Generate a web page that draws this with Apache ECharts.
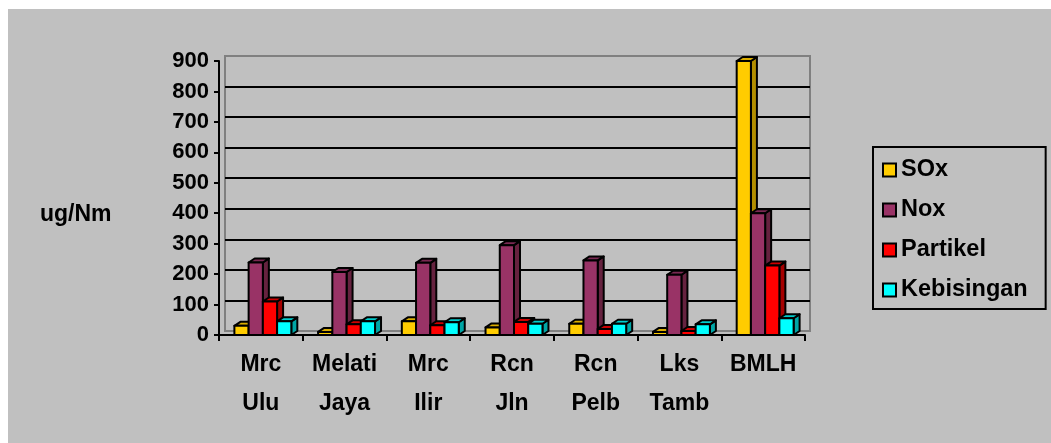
<!DOCTYPE html>
<html>
<head>
<meta charset="utf-8">
<script src="https://cdn.jsdelivr.net/npm/echarts@6/dist/echarts.min.js"></script>
<style>
html,body{margin:0;padding:0;background:#fff;}
#c{position:absolute;left:8px;top:9px;width:1043px;height:434px;background:#c0c0c0;}
</style>
</head>
<body>
<div id="c"></div>
<script>
var categories = ['Mrc\nUlu', 'Melati\nJaya', 'Mrc\nIlir', 'Rcn\nJln', 'Rcn\nPelb', 'Lks\nTamb', 'BMLH'];
var seriesNames = ['SOx', 'Nox', 'Partikel', 'Kebisingan'];
var sox = [30, 10, 45, 25, 37, 10, 900];
var nox = [238, 207, 237, 295, 245, 198, 400];
var partikel = [110, 35, 32, 43, 20, 13, 228];
var kebisingan = [45, 45, 42, 37, 37, 35, 55];
var yTicks = [0, 100, 200, 300, 400, 500, 600, 700, 800, 900];

var colors = [
  {front: '#FFCC00', top: '#D9AC00', side: '#B38E00'},
  {front: '#993366', top: '#7A2952', side: '#66223F'},
  {front: '#FF0000', top: '#CC0000', side: '#A60000'},
  {front: '#00FFFF', top: '#00CCCC', side: '#00A6A6'}
];
var allValues = [sox, nox, partikel, kebisingan];

var chart = echarts.init(document.getElementById('c'), null, {renderer: 'canvas'});
var OX = 8, OY = 9;
var FONT = '"Liberation Sans", Arial, sans-serif';

function makeSeries(si) {
  return {
    name: seriesNames[si],
    type: 'custom',
    xAxisIndex: 0,
    yAxisIndex: 0,
    clip: false,
    itemStyle: {color: colors[si].front, borderColor: '#000', borderWidth: 2},
    encode: {x: 0, y: 1},
    data: allValues[si].map(function (v, i) { return [i, v]; }),
    renderItem: function (params, api) {
      var idx = api.value(0);
      var val = api.value(1);
      var band = api.size([1, 0])[0];
      var w = band * 0.17;
      var base = api.coord([idx, 0]);
      var topPt = api.coord([idx, val]);
      var x0 = base[0] + (si - 2) * w + 2;
      var x1 = x0 + w;
      var yb = base[1];
      var yt = topPt[1];
      var dx = 6, dy = -4;
      var c = colors[si];
      var ls = {stroke: '#000', lineWidth: 2, lineJoin: 'round'};
      return {
        type: 'group',
        children: [
          {type: 'polygon', shape: {points: [[x1, yb], [x1 + dx, yb + dy], [x1 + dx, yt + dy], [x1, yt]]},
           style: Object.assign({fill: c.side}, ls)},
          {type: 'polygon', shape: {points: [[x0, yt], [x0 + dx, yt + dy], [x1 + dx, yt + dy], [x1, yt]]},
           style: Object.assign({fill: c.top}, ls)},
          {type: 'rect', shape: {x: x0, y: yt, width: w, height: yb - yt},
           style: Object.assign({fill: c.front}, ls)}
        ]
      };
    }
  };
}

var gridColors = yTicks.map(function (t, i) { return (i === 0 || i === yTicks.length - 1) ? '#808080' : '#000000'; });

var option = {
  animation: false,
  backgroundColor: '#c0c0c0',
  textStyle: {fontFamily: FONT},
  grid: [
    {left: 219 - OX, top: 61 - OY, width: 586, height: 274, containLabel: false},
    {left: 225 - OX, top: 56 - OY, width: 585, height: 275, show: true, borderColor: '#808080', borderWidth: 2, backgroundColor: 'transparent', z: 0}
  ],
  xAxis: [
    {type: 'category', gridIndex: 0, data: categories,
     axisLine: {lineStyle: {color: '#000', width: 2}},
     axisTick: {show: true, length: 6, lineStyle: {color: '#000', width: 2}},
     axisLabel: {color: '#000', fontSize: 23, fontWeight: 'bold', fontFamily: FONT, lineHeight: 39, margin: 10, interval: 0},
     z: 5},
    {type: 'category', gridIndex: 1, data: categories, show: false}
  ],
  yAxis: [
    {type: 'value', gridIndex: 0, min: 0, max: 900, interval: 100,
     axisLine: {show: true, lineStyle: {color: '#000', width: 2}},
     axisTick: {show: true, length: 5, lineStyle: {color: '#000', width: 2}},
     axisLabel: {color: '#000', fontSize: 22, fontWeight: 'bold', fontFamily: FONT, margin: 10},
     splitLine: {show: false},
     z: 5},
    {type: 'value', gridIndex: 1, min: 0, max: 900, interval: 100,
     axisLine: {show: false}, axisTick: {show: false}, axisLabel: {show: false},
     splitLine: {show: true, lineStyle: {color: gridColors, width: 2}}}
  ],
  legend: {
    orient: 'vertical',
    left: 873 - OX,
    top: 147 - OY,
    padding: [11, 18, 7, 9],
    itemWidth: 13,
    itemHeight: 13,
    itemGap: 16,
    itemTextGap: 10,
    icon: 'rect',
    borderColor: '#000',
    borderWidth: 2,
    backgroundColor: '#c0c0c0',
    itemStyle: {borderColor: '#000', borderWidth: 2},
    textStyle: {color: '#000', fontSize: 23.5, fontWeight: 'bold', fontFamily: FONT, lineHeight: 24},
    data: seriesNames
  },
  graphic: [
    {type: 'text', left: 40 - OX, top: 215 - OY - 12,
     style: {text: 'ug/Nm', fill: '#000', font: 'bold 23px ' + FONT}}
  ],
  series: [0, 1, 2, 3].map(makeSeries)
};
chart.setOption(option);
</script>
</body>
</html>
